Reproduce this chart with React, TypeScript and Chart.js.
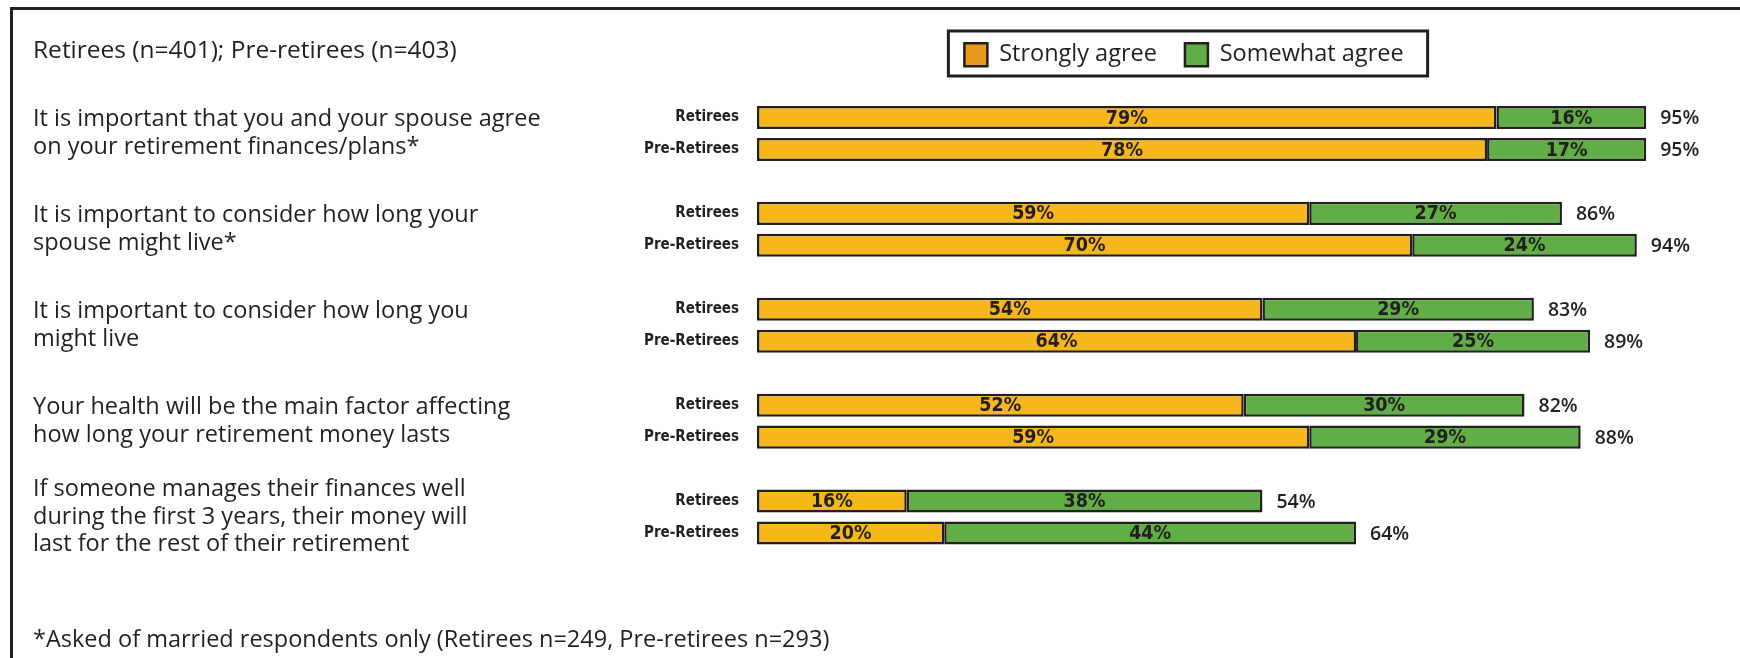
import React, { useEffect, useRef } from "react";
import { Chart, registerables } from "chart.js";

Chart.register(...registerables);

// ---------- data ----------
const titleText = "Retirees (n=401); Pre-retirees (n=403)";
const footnoteText =
  "*Asked of married respondents only (Retirees n=249, Pre-retirees n=293)";
const statementLines: string[][] = [
  ["It is important that you and your spouse agree", "on your retirement finances/plans*"],
  ["It is important to consider how long your", "spouse might live*"],
  ["It is important to consider how long you", "might live"],
  ["Your health will be the main factor affecting", "how long your retirement money lasts"],
  [
    "If someone manages their finances well",
    "during the first 3 years, their money will",
    "last for the rest of their retirement",
  ],
];
const rowLabels = ["Retirees", "Pre-Retirees"];
const seriesNames = ["Strongly agree", "Somewhat agree"];
const strongRetirees = [79, 59, 54, 52, 16];
const strongPre = [78, 70, 64, 59, 20];
const somewhatRetirees = [16, 27, 29, 30, 38];
const somewhatPre = [17, 24, 25, 29, 44];
const totalRetirees = [95, 86, 83, 82, 54];
const totalPre = [95, 94, 89, 88, 64];

// ---------- styles ----------
const INK = "#231F20";
const BAR_COLORS = ["#F5B71B", "#62AE46"];
const LEGEND_COLORS = ["#E8991D", "#62AE46"];
const BODY_FAMILY = "'Open Sans', Lato, sans-serif";
const BODY_SIZE = 23.5;
const TITLE_SIZE = 24.5;
const COND_FAMILY = "'Liberation Sans Narrow', 'DejaVu Sans Condensed', sans-serif";

// ---------- build chart tables ----------
const yLabels: string[] = [];
const strongData: (number | null)[] = [];
const somewhatData: (number | null)[] = [];
const totalData: (number | null)[] = [];
strongRetirees.forEach((_, g) => {
  yLabels.push(rowLabels[0], rowLabels[1]);
  strongData.push(strongRetirees[g], strongPre[g]);
  somewhatData.push(somewhatRetirees[g], somewhatPre[g]);
  totalData.push(totalRetirees[g], totalPre[g]);
  if (g < strongRetirees.length - 1) {
    yLabels.push("");
    strongData.push(null);
    somewhatData.push(null);
    totalData.push(null);
  }
});

// legend is centred over this horizontal span
const LEGEND_SPAN = { left: 675, right: 1693 };

const legendShiftPlugin = {
  id: "legendShift",
  afterLayout(chart: any) {
    const lg = chart.legend;
    if (!lg) return;
    lg.left = LEGEND_SPAN.left;
    lg.right = LEGEND_SPAN.right;
    lg.width = LEGEND_SPAN.right - LEGEND_SPAN.left;
  },
};

const sideTextPlugin = {
  id: "sideText",
  afterDraw(chart: any) {
    const ctx = chart.ctx as CanvasRenderingContext2D;
    ctx.save();
    // frame
    ctx.strokeStyle = INK;
    ctx.lineWidth = 3;
    ctx.beginPath();
    ctx.moveTo(11.5, chart.height);
    ctx.lineTo(11.5, 8.5);
    ctx.lineTo(chart.width, 8.5);
    ctx.stroke();

    ctx.fillStyle = INK;
    ctx.textAlign = "left";
    ctx.textBaseline = "middle";
    ctx.font = `${TITLE_SIZE}px ${BODY_FAMILY}`;
    ctx.fillText(titleText, 33, 51);

    ctx.font = `${BODY_SIZE}px ${BODY_FAMILY}`;
    const ys = chart.scales.y;
    const lh = 27.5;
    statementLines.forEach((lines, g) => {
      const yc = (ys.getPixelForValue(g * 3) + ys.getPixelForValue(g * 3 + 1)) / 2;
      const start = yc - ((lines.length - 1) * lh) / 2;
      lines.forEach((ln, k) => ctx.fillText(ln, 33, start + k * lh));
    });
    ctx.fillText(footnoteText, 33, 640);

    // legend frame
    const lg = chart.legend;
    if (lg && lg.lineWidths) {
      const p = lg.options.labels.padding;
      const lw = lg.lineWidths[0];
      const startX = (lg.left + p + lg.right - lw) / 2;
      const itemsRight = startX + lw - p;
      const top = lg.top + p;
      const ih = 23;
      ctx.lineWidth = 3;
      ctx.strokeRect(startX - 16, top - 12, itemsRight + 24 - (startX - 16), ih + 22);
    }
    ctx.restore();
  },
};

const barLabelPlugin = {
  id: "barLabels",
  afterDatasetsDraw(chart: any) {
    const ctx = chart.ctx as CanvasRenderingContext2D;
    ctx.save();
    ctx.fillStyle = INK;
    ctx.textBaseline = "middle";
    const lastIdx = chart.data.datasets.length - 1;
    chart.data.datasets.forEach((ds: any, di: number) => {
      const meta = chart.getDatasetMeta(di);
      meta.data.forEach((el: any, i: number) => {
        const v = ds.data[i];
        if (v == null) return;
        const { x, y, base } = el.getProps(["x", "y", "base"], true);
        ctx.font = `bold 19.5px ${COND_FAMILY}`;
        ctx.textAlign = "center";
        ctx.fillText(`${v}%`, (x + base) / 2, y + 1);
        if (di === lastIdx && totalData[i] != null) {
          ctx.font = `600 19.5px ${BODY_FAMILY}`;
          ctx.textAlign = "left";
          ctx.fillText(`${totalData[i]}%`, x + 14, y + 1);
        }
      });
    });
    ctx.restore();
  },
};

export default function App() {
  const ref = useRef<HTMLCanvasElement | null>(null);

  useEffect(() => {
    document.body.style.margin = "0";
    document.body.style.overflow = "hidden";
    const canvas = ref.current;
    if (!canvas) return;
    const chart = new Chart(canvas, {
      type: "bar",
      data: {
        labels: yLabels,
        datasets: [
          {
            label: seriesNames[0],
            data: strongData,
            backgroundColor: BAR_COLORS[0],
            borderColor: INK,
            borderWidth: 2.5,
            borderSkipped: false,
          },
          {
            label: seriesNames[1],
            data: somewhatData,
            backgroundColor: BAR_COLORS[1],
            borderColor: INK,
            borderWidth: 2.5,
            borderSkipped: false,
          },
        ],
      },
      options: {
        indexAxis: "y",
        responsive: false,
        animation: false,
        devicePixelRatio: 1,
        layout: { padding: { top: 15, left: 540, right: 47, bottom: 109 } },
        datasets: { bar: { barPercentage: 0.72, categoryPercentage: 1 } },
        scales: {
          x: {
            stacked: true,
            min: 0,
            max: 100,
            position: "top",
            display: true,
            grid: { display: false },
            border: { display: false },
            ticks: { display: false },
            afterFit: (s: any) => {
              s.height = 25;
            },
          },
          y: {
            stacked: true,
            grid: { display: false },
            border: { display: false },
            ticks: {
              autoSkip: false,
              color: INK,
              padding: 10,
              font: { family: COND_FAMILY, weight: "bold", size: 15 },
            },
            afterFit: (s: any) => {
              s.width = 217;
            },
          },
        },
        plugins: {
          tooltip: { enabled: false },
          legend: {
            display: true,
            position: "top",
            align: "center",
            labels: {
              color: INK,
              boxWidth: 23,
              boxHeight: 23,
              padding: 28,
              font: { family: BODY_FAMILY, size: BODY_SIZE },
              generateLabels: (ch: any) => {
                const items = Chart.defaults.plugins.legend.labels.generateLabels(ch);
                return items.map((it: any, i: number) => ({
                  ...it,
                  fillStyle: LEGEND_COLORS[i],
                  strokeStyle: INK,
                  lineWidth: 2.5,
                }));
              },
            },
          },
        },
      } as any,
      plugins: [legendShiftPlugin, barLabelPlugin, sideTextPlugin],
    });
    return () => chart.destroy();
  }, []);

  return (
    <canvas
      ref={ref}
      width={1740}
      height={658}
      style={{ display: "block", width: 1740, height: 658 }}
    />
  );
}
